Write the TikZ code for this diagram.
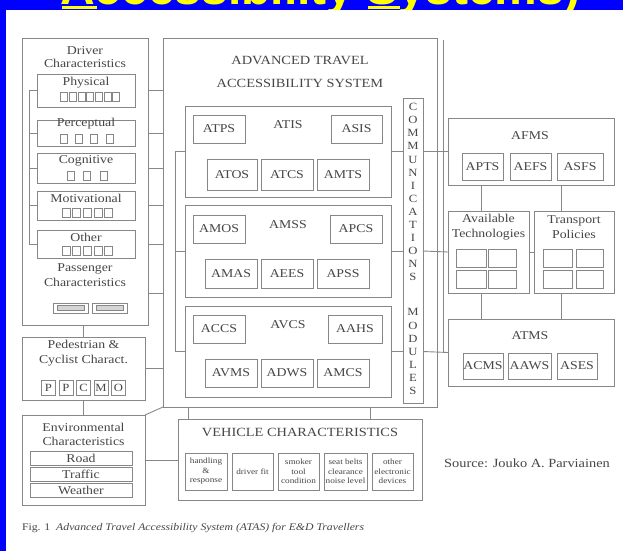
\documentclass[tikz,border=0pt]{standalone}
\usepackage{fontspec}
\setmainfont{Liberation Serif}[FakeStretch=1.15]
\newfontfamily\titlefont{Liberation Sans}
\usetikzlibrary{positioning}
\definecolor{ATASBlue}{RGB}{0,0,255}
\definecolor{ATASYellow}{RGB}{255,255,0}
\definecolor{ATASLine}{RGB}{135,135,135}
\definecolor{ATASInk}{RGB}{70,70,70}

\begin{document}
\begin{tikzpicture}[
x=1pt,
y=-1pt,
every node/.style={text=ATASInk,outer sep=0pt,inner sep=0pt},
frame/.style={draw=ATASLine,line width=0.9pt},
module/.style={draw=ATASLine,line width=0.9pt,font=\fontsize{12}{13}\selectfont},
headText/.style={font=\fontsize{12}{13}\selectfont,align=center},
tinyText/.style={font=\fontsize{8}{9.5}\selectfont,align=center},
glyph/.style={draw=ATASLine,line width=0.6pt},
link/.style={draw=ATASLine,line width=0.9pt}
]

\useasboundingbox (0,0) rectangle (623,551);

% slide frame and cut-off title
\fill[ATASBlue] (0,0) rectangle (623,551);
\node[anchor=base west,text=ATASYellow,font=\titlefont\bfseries\fontsize{48}{48}\selectfont] (title) at (60,5) {Accessibility Systems)};
\fill[ATASYellow] (62,6) rectangle (97,9.4);
\fill[ATASYellow] (368,6) rectangle (400,9.4);
\fill[white] (6,10) rectangle (623,551);

% driver characteristics
\node[frame,minimum width=126,minimum height=287] (driver) at (85,181.5) {};
\node[headText,font=\fontsize{12}{13}\selectfont] (driverT) at (85,57) {Driver\\Characteristics};

\node[frame,minimum width=98,minimum height=33] (phys) at (86,90.5) {};
\node[headText] (physT) at (86,83) {Physical};
\foreach \i in {0,...,6} \draw[glyph] (60.5+8.7*\i,92.5) rectangle +(7,9);

\node[frame,minimum width=98,minimum height=26] (perc) at (86,133) {};
\node[headText] (percT) at (86,124) {Perceptual};
\foreach \i in {0,...,3} \draw[glyph] (60+15.3*\i,134) rectangle +(7,9);

\node[frame,minimum width=98,minimum height=30] (cogn) at (86,168) {};
\node[headText] (cognT) at (86,161) {Cognitive};
\foreach \i in {0,...,2} \draw[glyph] (67+16.5*\i,171) rectangle +(7,9);

\node[frame,minimum width=98,minimum height=29] (moti) at (86,205.5) {};
\node[headText] (motiT) at (86,198) {Motivational};
\foreach \i in {0,...,4} \draw[glyph] (62+10.6*\i,208) rectangle +(8,9);

\node[frame,minimum width=98,minimum height=28] (other) at (86,244) {};
\node[headText] (otherT) at (86,237) {Other};
\foreach \i in {0,...,4} \draw[glyph] (62+10.6*\i,246) rectangle +(8,9);

\node[headText,font=\fontsize{12}{15}\selectfont] (passT) at (85,275.5) {Passenger\\Characteristics};
\node[frame,minimum width=35,minimum height=10] (pass1) at (70.5,308) {};
\node[glyph,fill=ATASLine!35,minimum width=27,minimum height=4.5] (pass1in) at (pass1) {};
\node[frame,minimum width=35,minimum height=10] (pass2) at (109.5,308) {};
\node[glyph,fill=ATASLine!35,minimum width=27,minimum height=4.5] (pass2in) at (pass2) {};
\coordinate (passLink) at (148,293);

\draw[link] (phys.west) -- ++(-8,0) |- (other.west);
\draw[link] (perc.west) -- ++(-8,0);
\draw[link] (cogn.west) -- ++(-8,0);
\draw[link] (moti.west) -- ++(-8,0);

% pedestrians and environment
\node[frame,minimum width=123,minimum height=63] (ped) at (83.5,368.5) {};
\node[headText,font=\fontsize{12}{15}\selectfont] (pedT) at (83.5,353.5) {Pedestrian \&\\Cyclist Charact.};
\foreach \ch [count=\k] in {P,P,C,M,O}
  \node[module,font=\fontsize{11}{12}\selectfont,minimum width=14,minimum height=15] (pc\k) at (31+17.5*\k,388) {\ch};

\node[frame,minimum width=123,minimum height=90] (env) at (83.5,460) {};
\node[headText,font=\fontsize{12}{14}\selectfont] (envT) at (83.5,434) {Environmental\\Characteristics};
\node[module,minimum width=102,minimum height=14] (road) at (81,458) {Road};
\node[module,minimum width=102,minimum height=14] (traffic) at (81,474) {Traffic};
\node[module,minimum width=102,minimum height=14] (weather) at (81,490) {Weather};

% advanced travel accessibility system
\node[frame,minimum width=274,minimum height=369] (atas) at (300,222.5) {};
\node[headText,font=\fontsize{12.5}{23}\selectfont] (atasT) at (300,71.5) {ADVANCED TRAVEL\\ACCESSIBILITY SYSTEM};

\node[frame,minimum width=206,minimum height=91] (atis) at (288,151.5) {};
\node[headText] (atisT) at (288,125) {ATIS};
\node[module,minimum width=52,minimum height=28] (atps) at (219,129) {ATPS};
\node[module,minimum width=51,minimum height=28] (asis) at (356.5,129) {ASIS};
\node[module,minimum width=50,minimum height=31] (atos) at (232,174.5) {ATOS};
\node[module,minimum width=52,minimum height=31] (atcs) at (287,174.5) {ATCS};
\node[module,minimum width=52,minimum height=31] (amts) at (343,174.5) {AMTS};

\node[frame,minimum width=206,minimum height=92] (amss) at (288,251) {};
\node[headText] (amssT) at (288,225) {AMSS};
\node[module,minimum width=52,minimum height=28] (amos) at (219,229) {AMOS};
\node[module,minimum width=52,minimum height=28] (apcs) at (356,229) {APCS};
\node[module,minimum width=52,minimum height=29] (amas) at (231,273.5) {AMAS};
\node[module,minimum width=52,minimum height=29] (aees) at (287,273.5) {AEES};
\node[module,minimum width=52,minimum height=29] (apss) at (343,273.5) {APSS};

\node[frame,minimum width=206,minimum height=91] (avcs) at (288,351.5) {};
\node[headText] (avcsT) at (288,325) {AVCS};
\node[module,minimum width=52,minimum height=28] (accs) at (219,329) {ACCS};
\node[module,minimum width=54,minimum height=28] (aahs) at (355,329) {AAHS};
\node[module,minimum width=52,minimum height=28] (avms) at (231,373) {AVMS};
\node[module,minimum width=52,minimum height=28] (adws) at (287,373) {ADWS};
\node[module,minimum width=52,minimum height=28] (amcs) at (343,373) {AMCS};

\draw[link] (atis.west) -- ++(-10,0) |- (avcs.west);
\draw[link] (amss.west) -- ++(-10,0);

% communications modules
\node[frame,minimum width=20,minimum height=305] (comm) at (413,250.5) {};
\node[headText,font=\fontsize{11}{13.1}\selectfont] (commT) at (413,249) {C\\O\\M\\M\\U\\N\\I\\C\\A\\T\\I\\O\\N\\S\\[21.9pt]M\\O\\D\\U\\L\\E\\S};

\draw[link] (atis.east) -- (comm.west |- atis.east);
\draw[link] (amss.east) -- (comm.west |- amss.east);
\draw[link] (avcs.east) -- (comm.west |- avcs.east);

% vehicle characteristics
\node[frame,minimum width=244,minimum height=81] (vehicle) at (300,459.5) {};
\node[headText,font=\fontsize{12.5}{13}\selectfont] (vehicleT) at (300,432) {VEHICLE CHARACTERISTICS};
\node[frame,tinyText,minimum width=42,minimum height=37] (handling) at (206,471.5) {handling\\\&\\response};
\node[frame,tinyText,minimum width=41,minimum height=37] (fit) at (252.5,471.5) {driver fit};
\node[frame,tinyText,minimum width=41,minimum height=37] (smoker) at (298.5,471.5) {smoker\\tool\\condition};
\node[frame,tinyText,minimum width=43,minimum height=37] (belts) at (345.5,471.5) {seat belts\\clearance\\noise level};
\node[frame,tinyText,minimum width=41,minimum height=37] (devices) at (392.5,471.5) {other\\electronic\\devices};

% management systems
\node[frame,minimum width=166,minimum height=67] (afms) at (531,151.5) {};
\node[headText] (afmsT) at (530,136) {AFMS};
\node[module,minimum width=41,minimum height=27] (apts) at (482.5,166.5) {APTS};
\node[module,minimum width=41,minimum height=27] (aefs) at (530.5,166.5) {AEFS};
\node[module,minimum width=46,minimum height=27] (asfs) at (580,166.5) {ASFS};

\node[frame,minimum width=81,minimum height=82] (avail) at (488.5,252) {};
\node[headText,font=\fontsize{12}{15}\selectfont] (availT) at (488.5,227.5) {Available\\Technologies};
\node[frame,minimum width=30,minimum height=18] (av1) at (471,258) {};
\node[frame,minimum width=28,minimum height=18] (av2) at (502,258) {};
\node[frame,minimum width=30,minimum height=18] (av3) at (471,279) {};
\node[frame,minimum width=28,minimum height=18] (av4) at (502,279) {};

\node[frame,minimum width=80,minimum height=82] (trans) at (574,252) {};
\node[headText,font=\fontsize{12}{15}\selectfont] (transT) at (574,227.5) {Transport\\Policies};
\node[frame,minimum width=29,minimum height=18] (tp1) at (557.5,258) {};
\node[frame,minimum width=27,minimum height=18] (tp2) at (589.5,258) {};
\node[frame,minimum width=29,minimum height=18] (tp3) at (557.5,279) {};
\node[frame,minimum width=27,minimum height=18] (tp4) at (589.5,279) {};

\node[frame,minimum width=166,minimum height=67] (atms) at (531,352.5) {};
\node[headText] (atmsT) at (530,336) {ATMS};
\node[module,minimum width=40,minimum height=26] (acms) at (483,366) {ACMS};
\node[module,minimum width=43,minimum height=26] (aaws) at (529.5,366) {AAWS};
\node[module,minimum width=40,minimum height=26] (ases) at (577,366) {ASES};

\node[headText,font=\fontsize{12.5}{13}\selectfont] (source) at (527,463) {Source: Jouko A. Parviainen};

% connections between blocks
\foreach \part in {phys,perc,cogn,moti,other}
  \draw[link] (driver.east |- \part.east) -- (atas.west |- \part.east);
\draw[link] (passLink) -- (atas.west |- passLink);
\draw[link] (ped.north |- driver.south) -- (ped.north);
\draw[link] (ped.east) -- (atas.west |- ped.east);
\draw[link] (ped.south) -- (env.north);
\draw[link] (env.north east) -- (atas.south west);
\draw[link] (env.east) -- (vehicle.west |- env.east);
\draw[link] ([xshift=-112]atas.south) -- ([xshift=-112]atas.south |- vehicle.north);
\draw[link] ([xshift=70]atas.south) -- ([xshift=70]atas.south |- vehicle.north);

\draw[link] (comm.east |- atis.east) -- (afms.west);
\draw[link] (comm.east |- amss.east) -- (avail.west);
\draw[link] (comm.east |- avcs.east) -- (atms.west);
\coordinate (busTop) at (443,40);
\draw[link] (busTop) -- (busTop |- atms.west);

\draw[link] ([xshift=-7.5]avail.north) -- ([xshift=-7.5]avail.north |- afms.south);
\draw[link] ([xshift=-13]trans.north) -- ([xshift=-13]trans.north |- afms.south);
\draw[link] (avail.east) -- (trans.west);
\draw[link] ([xshift=-7.5]avail.south) -- ([xshift=-7.5]avail.south |- atms.north);
\draw[link] ([xshift=-13]trans.south) -- ([xshift=-13]trans.south |- atms.north);

% figure caption
\node[anchor=base west,font=\fontsize{10.2}{12}\selectfont] (figCaption) at (22,530) {Fig. 1\ \ \textit{Advanced Travel Accessibility System (ATAS) for E\&D Travellers}};

\end{tikzpicture}
\end{document}
